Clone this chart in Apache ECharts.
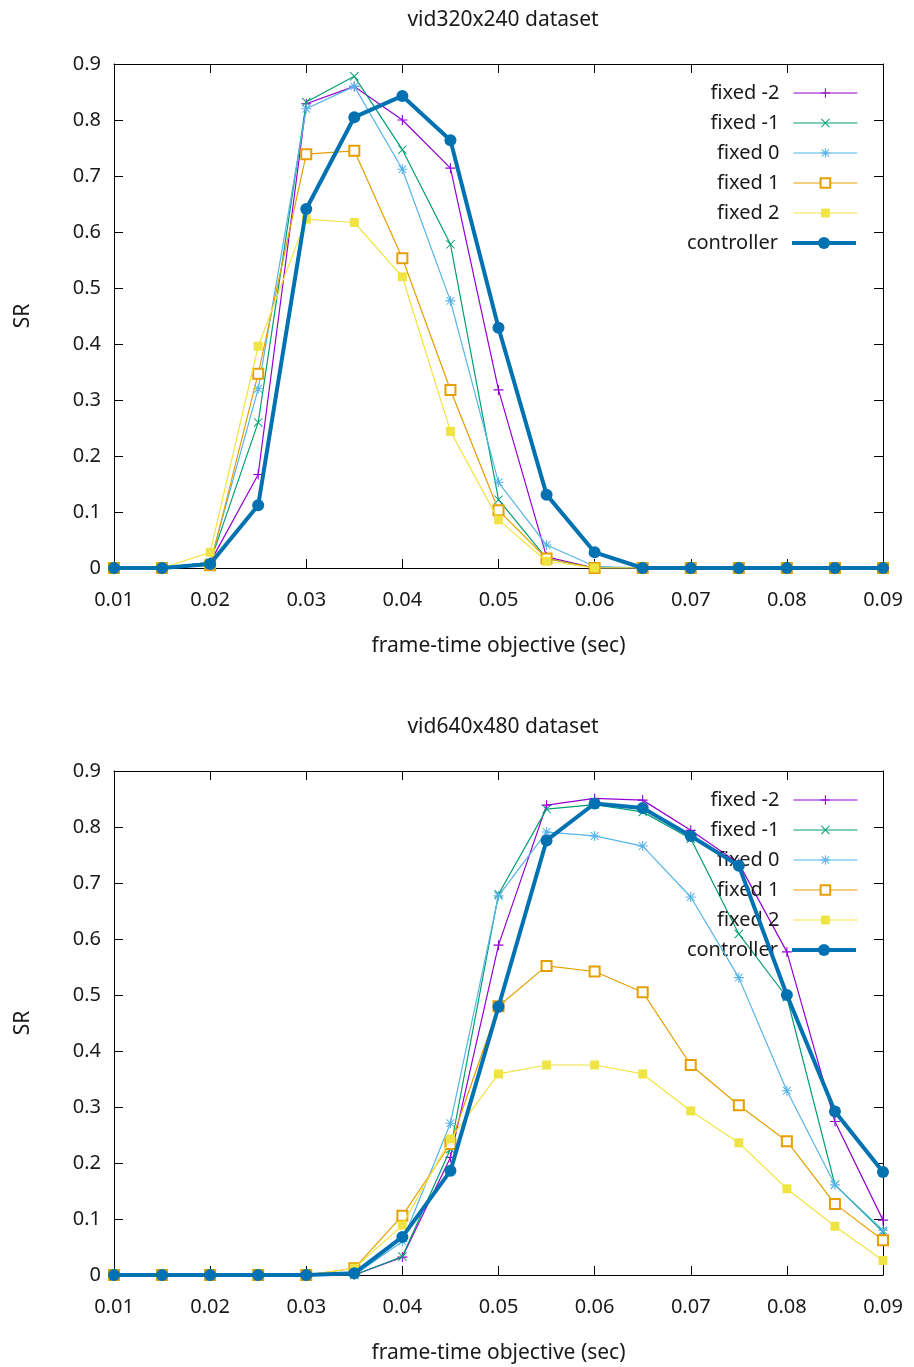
<!DOCTYPE html>
<html>
<head>
<meta charset="utf-8">
<script src="https://cdn.jsdelivr.net/npm/echarts@6/dist/echarts.min.js"></script>
<style>
html,body{margin:0;padding:0;background:#fff;}
#chart{width:914px;height:1367px;}
</style>
</head>
<body>
<div id="chart"></div>
<script>
// ---- data ----
const frameTimes = [0.01,0.015,0.02,0.025,0.03,0.035,0.04,0.045,0.05,0.055,0.06,0.065,0.07,0.075,0.08,0.085,0.09];
const seriesNames = ['fixed -2','fixed -1','fixed 0','fixed 1','fixed 2','controller'];
const xTickLabels = ['0.01','0.02','0.03','0.04','0.05','0.06','0.07','0.08','0.09'];
const yTickLabels = ['0','0.1','0.2','0.3','0.4','0.5','0.6','0.7','0.8','0.9'];
const titles = ['vid320x240 dataset','vid640x480 dataset'];

// vid320x240
const top_fixedM2 = [0,0,0.010,0.167,0.829,0.860,0.800,0.714,0.318,0.020,0,0,0,0,0,0,0];
const top_fixedM1 = [0,0,0.010,0.260,0.832,0.878,0.747,0.578,0.122,0.017,0,0,0,0,0,0,0];
const top_fixed0  = [0,0,0.010,0.320,0.820,0.860,0.712,0.477,0.153,0.041,0.003,0,0,0,0,0,0];
const top_fixed1  = [0,0,0.005,0.347,0.739,0.745,0.553,0.318,0.103,0.017,0,0,0,0,0,0,0];
const top_fixed2  = [0,0,0.028,0.396,0.623,0.617,0.520,0.244,0.086,0.012,0,0,0,0,0,0,0];
const top_control = [0,0,0.007,0.112,0.641,0.805,0.843,0.764,0.429,0.131,0.028,0,0,0,0,0,0];

// vid640x480
const bot_fixedM2 = [0,0,0,0,0,0,0.032,0.210,0.589,0.839,0.851,0.848,0.794,0.735,0.577,0.274,0.098];
const bot_fixedM1 = [0,0,0,0,0,0,0.033,0.225,0.680,0.832,0.840,0.827,0.779,0.609,0.496,0.161,0.077];
const bot_fixed0  = [0,0,0,0,0,0,0.060,0.271,0.677,0.791,0.784,0.766,0.675,0.531,0.329,0.161,0.080];
const bot_fixed1  = [0,0,0,0,0,0.012,0.106,0.234,0.480,0.552,0.542,0.505,0.375,0.303,0.239,0.127,0.062];
const bot_fixed2  = [0,0,0,0,0,0.012,0.089,0.243,0.359,0.375,0.375,0.359,0.293,0.236,0.154,0.087,0.026];
const bot_control = [0,0,0,0,0,0.003,0.068,0.186,0.479,0.776,0.842,0.834,0.784,0.731,0.500,0.292,0.184];

// ---- styles ----
const colors = ['#9400d3','#009e73','#56b4e9','#e69f00','#f0e442','#0072b2'];
const PLUS = 'path://M4.45,0H5.55V10H4.45Z M0,4.45H10V5.55H0Z';
const CROSS = 'path://M0,0.75L0.75,0L10,9.25L9.25,10Z M9.25,0L10,0.75L0.75,10L0,9.25Z';
const STAR = 'path://M4.45,0H5.55V10H4.45Z M0,4.45H10V5.55H0Z M0.8,1.5L1.5,0.8L9.2,8.5L8.5,9.2Z M8.5,0.8L9.2,1.5L1.5,9.2L0.8,8.5Z';
const symbols = [PLUS, CROSS, STAR, 'emptyRect', 'rect', 'circle'];
const symbolSizes = [10, 9, 10, 10, 9, 12];
const legendItemHeights = [12, 11, 12, 12, 11, 15];
const lineWidths = [1.2, 1.2, 1.2, 1.2, 1.2, 4];
const FONT = 'Noto Sans';
const TICK_FS = 20, NAME_FS = 21, TITLE_FS = 21, LEG_FS = 20;
const TXT = '#1a1a1a';

const topData = [top_fixedM2, top_fixedM1, top_fixed0, top_fixed1, top_fixed2, top_control];
const botData = [bot_fixedM2, bot_fixedM1, bot_fixed0, bot_fixed1, bot_fixed2, bot_control];

const grids = [
  {left: 114, top: 64, width: 769, height: 504},
  {left: 114, top: 771, width: 769, height: 504}
];

function xAxisDef(gridIndex, pos, labels) {
  return {
    type: 'value', gridIndex: gridIndex, position: pos,
    min: 0.01, max: 0.09, interval: 0.01,
    splitLine: {show: false},
    axisLine: {show: true, onZero: false, lineStyle: {color: '#000', width: 1}},
    axisTick: {show: true, inside: true, length: 9, lineStyle: {color: '#000', width: 1}},
    axisLabel: {show: labels, margin: 22, fontFamily: FONT, fontSize: TICK_FS, color: TXT,
      formatter: v => xTickLabels[Math.round(v * 100) - 1]},
    name: labels ? 'frame-time objective (sec)' : '',
    nameLocation: 'middle', nameGap: 68,
    nameTextStyle: {fontFamily: FONT, fontSize: NAME_FS, color: TXT}
  };
}
function yAxisDef(gridIndex, pos, labels) {
  return {
    type: 'value', gridIndex: gridIndex, position: pos,
    min: 0, max: 0.9, interval: 0.1,
    splitLine: {show: false},
    axisLine: {show: true, onZero: false, lineStyle: {color: '#000', width: 1}},
    axisTick: {show: true, inside: true, length: 9, lineStyle: {color: '#000', width: 1}},
    axisLabel: {show: labels, margin: 13, fontFamily: FONT, fontSize: TICK_FS, color: TXT,
      formatter: v => yTickLabels[Math.round(v * 10)]},
    name: labels ? 'SR' : '',
    nameLocation: 'middle', nameGap: 80, nameRotate: 90,
    nameTextStyle: {fontFamily: FONT, fontSize: NAME_FS, color: TXT}
  };
}

const xAxes = [xAxisDef(0,'bottom',true), xAxisDef(0,'top',false), xAxisDef(1,'bottom',true), xAxisDef(1,'top',false)];
const yAxes = [yAxisDef(0,'left',true), yAxisDef(0,'right',false), yAxisDef(1,'left',true), yAxisDef(1,'right',false)];

const series = [];
[topData, botData].forEach((set, g) => {
  set.forEach((vals, i) => {
    series.push({
      type: 'line', name: seriesNames[i],
      xAxisIndex: g * 2, yAxisIndex: g * 2,
      data: frameTimes.map((x, k) => [x, vals[k]]),
      symbol: symbols[i], symbolSize: symbolSizes[i],
      showSymbol: true, showAllSymbol: true,
      lineStyle: {color: colors[i], width: lineWidths[i]},
      itemStyle: {color: colors[i], borderColor: colors[i], borderWidth: i === 3 ? 1.3 : 0},
      z: 2 + i,
      animation: false
    });
  });
});

const legends = [];
[0, 1].forEach(g => {
  const base = g === 0 ? 92 : 799;
  seriesNames.forEach((n, i) => {
    const h = legendItemHeights[i];
    legends.push({
      data: [n], orient: 'vertical', right: 56, top: base + i * 30 - 9,
      padding: 0, itemWidth: 64, itemHeight: h, align: 'right',
      selectedMode: false,
      lineStyle: {width: lineWidths[i]},
      textStyle: {fontFamily: FONT, fontSize: LEG_FS, color: TXT, padding: [0, 9, 0, 0]}
    });
  });
});

const chart = echarts.init(document.getElementById('chart'), null, {renderer: 'canvas'});
chart.setOption({
  backgroundColor: '#fff',
  animation: false,
  title: [
    {text: titles[0], left: 498, top: 5, textAlign: 'center', textStyle: {fontFamily: FONT, fontSize: TITLE_FS, fontWeight: 'normal', color: TXT}},
    {text: titles[1], left: 498, top: 712, textAlign: 'center', textStyle: {fontFamily: FONT, fontSize: TITLE_FS, fontWeight: 'normal', color: TXT}}
  ],
  grid: grids,
  xAxis: xAxes,
  yAxis: yAxes,
  legend: legends,
  series: series
});
</script>
</body>
</html>
